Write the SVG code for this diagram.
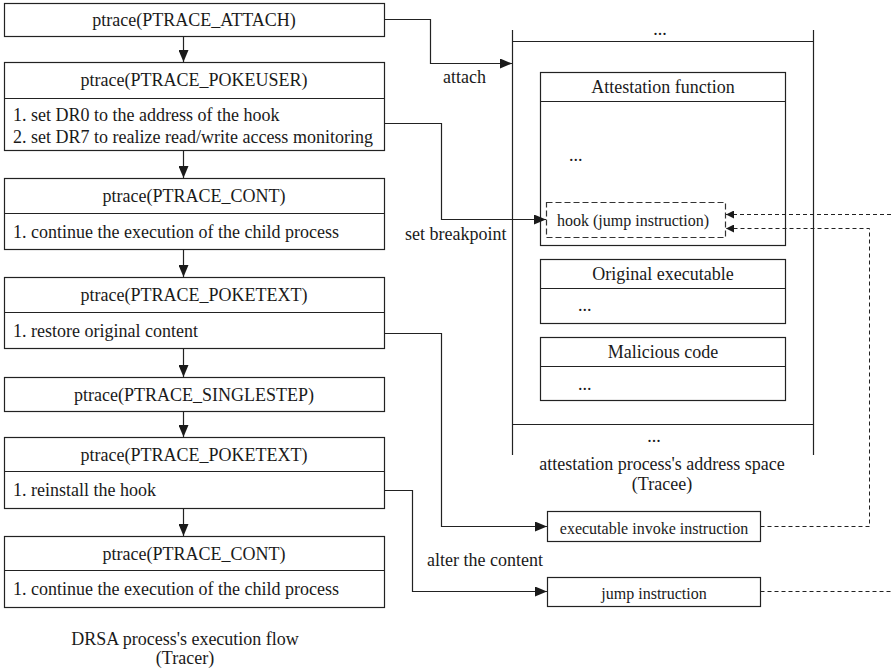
<svg xmlns="http://www.w3.org/2000/svg" width="891" height="672" viewBox="0 0 891 672">
<style>
text{font-family:"Liberation Serif","Times New Roman",serif;font-size:18px;fill:#1a1a1a}
.c{text-anchor:middle}
.s{font-size:16px}
.b{fill:#fff;stroke:#222;stroke-width:1.2}
.l{fill:none;stroke:#222;stroke-width:1.2}
.d{fill:none;stroke:#222;stroke-width:1;stroke-dasharray:4,3}
.hb{fill:#fff;stroke:#333;stroke-width:1.2;stroke-dasharray:6,3}
</style>
<defs>
<marker id="a" viewBox="0 0 12 10" refX="12" refY="5" markerWidth="12" markerHeight="10" markerUnits="userSpaceOnUse" orient="auto"><path d="M0,0L12,5L0,10z" fill="#1a1a1a"/></marker>
<marker id="ad" viewBox="0 0 8 8" refX="8" refY="4" markerWidth="8" markerHeight="8" markerUnits="userSpaceOnUse" orient="auto"><path d="M0,0L8,4L0,8z" fill="#1a1a1a"/></marker>
</defs>
<g id="n1"><rect class="b" x="4.5" y="3.5" width="380" height="33"/><text class="c" x="194" y="26">ptrace(PTRACE_ATTACH)</text></g>
<g id="n2"><rect class="b" x="4.5" y="62.5" width="380" height="88"/><line class="l" x1="4.5" y1="98.5" x2="384.5" y2="98.5"/><text class="c" x="194" y="86">ptrace(PTRACE_POKEUSER)</text><text x="13" y="121">1. set DR0 to the address of the hook</text><text x="13" y="143">2. set DR7 to realize read/write access monitoring</text></g>
<g id="n3"><rect class="b" x="4.5" y="178.5" width="380" height="71"/><line class="l" x1="4.5" y1="213.5" x2="384.5" y2="213.5"/><text class="c" x="194" y="202">ptrace(PTRACE_CONT)</text><text x="13" y="238">1. continue the execution of the child process</text></g>
<g id="n4"><rect class="b" x="4.5" y="277.5" width="380" height="71"/><line class="l" x1="4.5" y1="312.5" x2="384.5" y2="312.5"/><text class="c" x="194" y="301">ptrace(PTRACE_POKETEXT)</text><text x="13" y="337">1. restore original content</text></g>
<g id="n5"><rect class="b" x="4.5" y="377.5" width="380" height="34"/><text class="c" x="194" y="401">ptrace(PTRACE_SINGLESTEP)</text></g>
<g id="n6"><rect class="b" x="4.5" y="437.5" width="380" height="71"/><line class="l" x1="4.5" y1="471.5" x2="384.5" y2="471.5"/><text class="c" x="194" y="461">ptrace(PTRACE_POKETEXT)</text><text x="13" y="496">1. reinstall the hook</text></g>
<g id="n7"><rect class="b" x="4.5" y="536.5" width="380" height="71"/><line class="l" x1="4.5" y1="570.5" x2="384.5" y2="570.5"/><text class="c" x="194" y="560">ptrace(PTRACE_CONT)</text><text x="13" y="595">1. continue the execution of the child process</text></g>
<g id="tracer-caption"><text class="c" x="185" y="645">DRSA process's execution flow</text><text class="c" x="185" y="664">(Tracer)</text></g>
<g id="addr-space"><path class="l" d="M512.5,30V455M813.5,30V455M512.5,41.5H813.5M512.5,424.5H813.5"/><text class="c" x="660" y="35">...</text><text class="c" x="654" y="442">...</text><text class="c" x="662" y="470">attestation process's address space</text><text class="c" x="662" y="490">(Tracee)</text></g>
<g id="attest"><rect class="b" x="540.5" y="72.5" width="245" height="173"/><line class="l" x1="540.5" y1="101.5" x2="785.5" y2="101.5"/><text class="c" x="663" y="93">Attestation function</text><text x="569" y="161">...</text></g>
<g id="hook"><rect class="hb" x="546.5" y="202.5" width="179" height="35"/><text class="c s" x="633" y="226">hook (jump instruction)</text></g>
<g id="orig"><rect class="b" x="540.5" y="259.5" width="245" height="64"/><line class="l" x1="540.5" y1="288.5" x2="785.5" y2="288.5"/><text class="c" x="663" y="280">Original executable</text><text x="578" y="311">...</text></g>
<g id="mal"><rect class="b" x="540.5" y="337.5" width="245" height="63"/><line class="l" x1="540.5" y1="366.5" x2="785.5" y2="366.5"/><text class="c" x="663" y="358">Malicious code</text><text x="578" y="390">...</text></g>
<g id="invoke"><rect class="b" x="547.5" y="511.5" width="213" height="30"/><text class="c s" x="654" y="534">executable invoke instruction</text></g>
<g id="jump"><rect class="b" x="547.5" y="577.5" width="213" height="29"/><text class="c s" x="654" y="599">jump instruction</text></g>
<g id="connectors">
<path class="l" d="M183.5,36.5V62" marker-end="url(#a)"/>
<path class="l" d="M183.5,150.5V178" marker-end="url(#a)"/>
<path class="l" d="M183.5,249.5V277" marker-end="url(#a)"/>
<path class="l" d="M183.5,348.5V377" marker-end="url(#a)"/>
<path class="l" d="M183.5,411.5V437" marker-end="url(#a)"/>
<path class="l" d="M183.5,508.5V536" marker-end="url(#a)"/>
<path class="l" d="M384.5,19.5H430.5V63.5H512" marker-end="url(#a)"/>
<path class="l" d="M384.5,123.5H441.5V219.5H546" marker-end="url(#a)"/>
<path class="l" d="M384.5,333.5H441.5V526.5H547" marker-end="url(#a)"/>
<path class="l" d="M384.5,490.5H412.5V591.5H547" marker-end="url(#a)"/>
<path class="d" d="M760.5,526.5H869.5V228.5H726" marker-end="url(#ad)"/>
<path class="d" d="M891,214.5H726" marker-end="url(#ad)"/>
<path class="d" d="M760.5,591.5H891"/>
<text x="443" y="83">attach</text>
<text x="405" y="240">set breakpoint</text>
<text x="427" y="566">alter the content</text>
</g>
</svg>
